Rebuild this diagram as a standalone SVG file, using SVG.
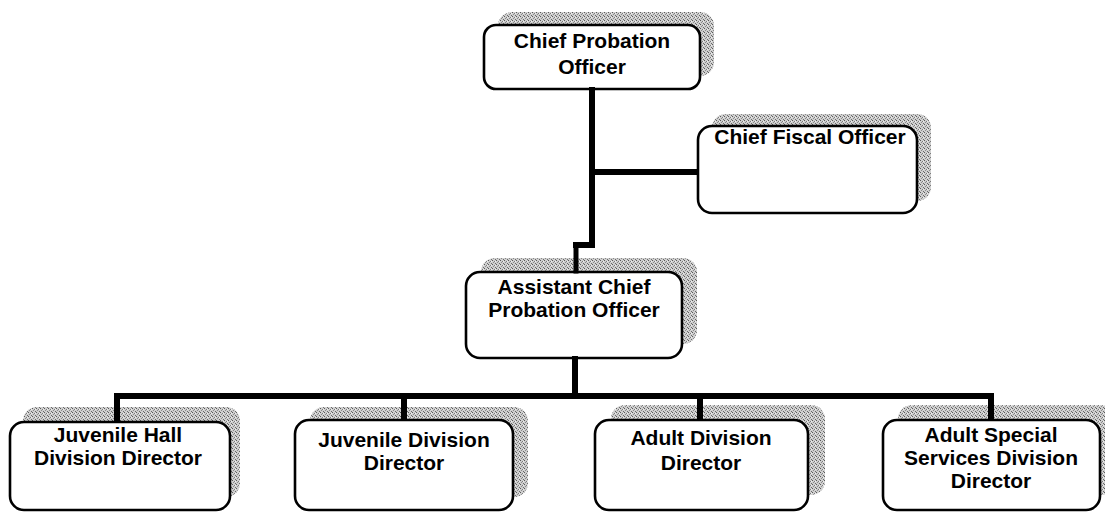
<svg xmlns="http://www.w3.org/2000/svg" width="1105" height="512" viewBox="0 0 1105 512">
<defs>
<pattern id="stip" width="4" height="4" patternUnits="userSpaceOnUse">
<rect width="4" height="4" fill="#cfcfcf"/>
<rect x="0" y="0" width="1" height="1" fill="#5a5a5a"/>
<rect x="2" y="1" width="1" height="1" fill="#7a7a7a"/>
<rect x="1" y="2" width="1" height="1" fill="#8a8a8a"/>
<rect x="3" y="3" width="1" height="1" fill="#6a6a6a"/>
<rect x="3" y="1" width="1" height="1" fill="#eeeeee"/>
</pattern>
</defs>
<style>
.shadow{fill:url(#stip);stroke:none}
.box{fill:#fff;stroke:#000;stroke-width:2.6}
.lbl{font-family:"Liberation Sans",Arial,sans-serif;font-weight:bold;font-size:21px;fill:#000;text-anchor:middle}
.con{stroke:#000;stroke-width:6;fill:none;stroke-linecap:square}
</style>
<rect width="1105" height="512" fill="#fff"/>

<g id="chief-probation-officer">
<rect class="shadow" x="498" y="12" width="216" height="64" rx="14"/>
<rect class="box" x="484" y="25" width="216" height="64" rx="12"/>
<text class="lbl" x="592" y="48">Chief Probation</text>
<text class="lbl" x="592" y="74">Officer</text>
</g>

<g id="chief-fiscal-officer">
<rect class="shadow" x="712" y="114" width="219" height="87" rx="14"/>
<rect class="box" x="698" y="126" width="219" height="87" rx="14"/>
<text class="lbl" x="810" y="144">Chief Fiscal Officer</text>
</g>

<g id="assistant-chief-probation-officer">
<rect class="shadow" x="481" y="258" width="216" height="86" rx="14"/>
<rect class="box" x="466" y="272" width="216" height="86" rx="14"/>
<text class="lbl" x="574" y="294">Assistant Chief</text>
<text class="lbl" x="574" y="317">Probation Officer</text>
</g>

<g id="juvenile-hall-division-director">
<rect class="shadow" x="23" y="407" width="217" height="90" rx="14"/>
<rect class="box" x="10" y="422" width="220" height="88" rx="14"/>
<text class="lbl" x="118" y="442">Juvenile Hall</text>
<text class="lbl" x="118" y="465">Division Director</text>
</g>

<g id="juvenile-division-director">
<rect class="shadow" x="310" y="407" width="218" height="90" rx="14"/>
<rect class="box" x="295" y="420" width="218" height="90" rx="14"/>
<text class="lbl" x="404" y="447">Juvenile Division</text>
<text class="lbl" x="404" y="470">Director</text>
</g>

<g id="adult-division-director">
<rect class="shadow" x="611" y="405" width="214" height="90" rx="14"/>
<rect class="box" x="595" y="420" width="213" height="90" rx="14"/>
<text class="lbl" x="701" y="445">Adult Division</text>
<text class="lbl" x="701" y="470">Director</text>
</g>

<g id="adult-special-services-division-director">
<rect class="shadow" x="898" y="405" width="217" height="90" rx="14"/>
<rect class="box" x="883" y="420" width="217" height="90" rx="14"/>
<text class="lbl" x="991" y="442">Adult Special</text>
<text class="lbl" x="991" y="465">Services Division</text>
<text class="lbl" x="991" y="488">Director</text>
</g>

<g id="connectors">
<path class="con" d="M592 90 V245 H576"/>
<path class="con" d="M576 245 V271" style="stroke-width:5"/>
<path class="con" d="M592 172 H697" style="stroke-linecap:butt"/>
<path class="con" d="M575 359 V396"/>
<path class="con" d="M117 396 H991"/>
<path class="con" d="M117 396 V421" style="stroke-linecap:butt"/>
<path class="con" d="M404 396 V419" style="stroke-linecap:butt"/>
<path class="con" d="M700 396 V419" style="stroke-linecap:butt"/>
<path class="con" d="M991 396 V419" style="stroke-linecap:butt"/>
</g>
</svg>
